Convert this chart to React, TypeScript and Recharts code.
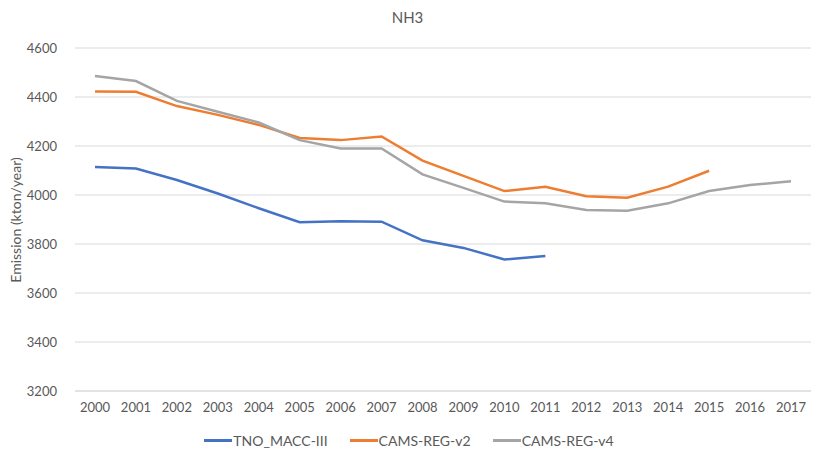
import { LineChart, Line, XAxis, YAxis, CartesianGrid, Legend } from "recharts";

const years = [
  "2000", "2001", "2002", "2003", "2004", "2005", "2006", "2007", "2008",
  "2009", "2010", "2011", "2012", "2013", "2014", "2015", "2016", "2017",
];
const tnoMacc = [
  4114, 4108, 4061, 4006, 3946, 3889, 3893, 3891, 3815, 3784, 3737, 3751,
  null, null, null, null, null, null,
];
const camsV2 = [
  4422, 4421, 4363, 4327, 4286, 4233, 4224, 4239, 4140, 4078, 4016, 4034,
  3995, 3989, 4034, 4099, null, null,
];
const camsV4 = [
  4486, 4465, 4384, 4340, 4296, 4224, 4190, 4190, 4084, 4029, 3973, 3966,
  3939, 3936, 3966, 4016, 4041, 4056,
];
const yTicks = [3200, 3400, 3600, 3800, 4000, 4200, 4400, 4600];

const series = [
  { key: "tno", name: "TNO_MACC-III", color: "#4472C4" },
  { key: "v2", name: "CAMS-REG-v2", color: "#ED7D31" },
  { key: "v4", name: "CAMS-REG-v4", color: "#A5A5A5" },
];

const data = years.map((y, i) => ({
  year: y,
  tno: tnoMacc[i],
  v2: camsV2[i],
  v4: camsV4[i],
}));

const FONT = "Lato, 'Open Sans', sans-serif";
const TEXT = "#595959";

function LegendRow() {
  return (
    <div
      style={{
        display: "flex",
        justifyContent: "center",
        gap: 22,
        fontFamily: FONT,
        fontSize: 14,
        color: TEXT,
        paddingTop: 11,
        paddingRight: 8,
      }}
    >
      {series.map((s) => (
        <div key={s.key} style={{ display: "flex", alignItems: "center" }}>
          <span
            style={{
              display: "inline-block",
              width: 28,
              height: 3,
              background: s.color,
              marginRight: 1,
            }}
          />
          <span>{s.name}</span>
        </div>
      ))}
    </div>
  );
}

function YLabel() {
  return (
    <text
      x={15}
      y={220}
      transform="rotate(-90 15 220)"
      textAnchor="middle"
      dominantBaseline="central"
      fill={TEXT}
      fontSize={14}
      fontFamily={FONT}
    >
      Emission (kton/year)
    </text>
  );
}

export default function App() {
  return (
    <div style={{ position: "absolute", left: 0, top: 0, width: 815, height: 454, background: "#fff" }}>
      <div
        style={{
          position: "absolute",
          top: 8,
          width: 815,
          textAlign: "center",
          fontFamily: FONT,
          fontSize: 15,
          color: TEXT,
        }}
      >
        NH3
      </div>
      <LineChart
        width={815}
        height={454}
        data={data}
        margin={{ top: 48, right: 4, bottom: 0, left: 15 }}
      >
        <CartesianGrid vertical={false} stroke="#D9D9D9" strokeWidth={1} />
        <XAxis
          dataKey="year"
          height={30}
          padding={{ left: 20, right: 20 }}
          axisLine={{ stroke: "#D9D9D9" }}
          tickLine={false}
          tick={{ fill: TEXT, fontSize: 13, fontFamily: FONT }}
          tickMargin={6}
          interval={0}
        />
        <YAxis
          width={60}
          domain={[3200, 4600]}
          ticks={yTicks}
          axisLine={false}
          tickLine={false}
          tick={{ fill: TEXT, fontSize: 13, fontFamily: FONT }}
          tickMargin={12}
          label={<YLabel />}
        />
        <Legend verticalAlign="bottom" height={33} content={<LegendRow />} />
        {series.map((s) => (
          <Line
            key={s.key}
            dataKey={s.key}
            name={s.name}
            stroke={s.color}
            strokeWidth={2.5}
            dot={false}
            activeDot={false}
            connectNulls={false}
            isAnimationActive={false}
          />
        ))}
      </LineChart>
    </div>
  );
}
